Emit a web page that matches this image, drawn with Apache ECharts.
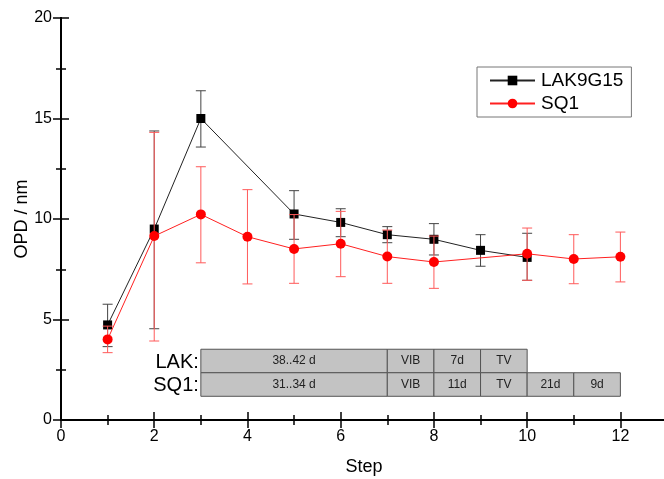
<!DOCTYPE html>
<html><head><meta charset="utf-8">
<script src="https://cdn.jsdelivr.net/npm/echarts@6/dist/echarts.min.js"></script>
<style>html,body{margin:0;padding:0;background:#fff}#c{width:664px;height:479px}</style>
</head><body><div id="c"></div>
<script>
// ---- data ----
const lakSteps = [1, 2, 3, 5, 6, 7, 8, 9, 10];
const lakOPD   = [4.73, 9.5, 15.0, 10.25, 9.83, 9.22, 8.99, 8.44, 8.09];
const lakLow   = [3.65, 4.54, 13.58, 8.99, 9.12, 8.82, 8.21, 7.65, 6.95];
const lakHigh  = [5.76, 14.38, 16.38, 11.41, 10.51, 9.62, 9.77, 9.22, 9.29];

const sqSteps = [1, 2, 3, 4, 5, 6, 7, 8, 10, 11, 12];
const sqOPD   = [4.01, 9.15, 10.23, 9.12, 8.51, 8.77, 8.13, 7.86, 8.27, 8.01, 8.12];
const sqLow   = [3.35, 3.93, 7.82, 6.77, 6.8, 7.13, 6.8, 6.55, 6.95, 6.78, 6.87];
const sqHigh  = [4.67, 14.31, 12.6, 11.46, 10.22, 10.38, 9.45, 9.15, 9.55, 9.22, 9.35];

const lakSegStart = [3, 7, 8, 9];
const lakSegEnd   = [7, 8, 9, 10];
const lakSegText  = ['38..42 d', 'VIB', '7d', 'TV'];
const sqSegStart  = [3, 7, 8, 9, 10, 11];
const sqSegEnd    = [7, 8, 9, 10, 11, 12];
const sqSegText   = ['31..34 d', 'VIB', '11d', 'TV', '21d', '9d'];

const xTicks = [0, 2, 4, 6, 8, 10, 12];
const yTicks = [0, 5, 10, 15, 20];

// ---- helpers ----
const FONT = 'Liberation Sans, Arial, sans-serif';
function errData(xs, lo, hi) { return xs.map((x, i) => [x, lo[i], hi[i]]); }
function errRender(color) {
  return function (params, api) {
    const x = api.value(0);
    const p1 = api.coord([x, api.value(1)]);
    const p2 = api.coord([x, api.value(2)]);
    const hw = 5;
    const st = { stroke: color, lineWidth: 1 };
    return { type: 'group', children: [
      { type: 'line', shape: { x1: p1[0], y1: p1[1], x2: p2[0], y2: p2[1] }, style: st },
      { type: 'line', shape: { x1: p1[0] - hw, y1: p1[1], x2: p1[0] + hw, y2: p1[1] }, style: st },
      { type: 'line', shape: { x1: p2[0] - hw, y1: p2[1], x2: p2[0] + hw, y2: p2[1] }, style: st }
    ]};
  };
}
function segData(s, e) { return s.map((v, i) => [v, e[i]]); }
function segRender(texts, yTop, yBot, rowLabel) {
  return function (params, api) {
    const a = api.coord([api.value(0), yTop]);
    const b = api.coord([api.value(1), yBot]);
    const children = [
      { type: 'rect', shape: { x: a[0], y: a[1], width: b[0] - a[0], height: b[1] - a[1] },
        style: { fill: '#c3c3c3', stroke: '#555', lineWidth: 1 } },
      { type: 'text', style: { x: (a[0] + b[0]) / 2, y: (a[1] + b[1]) / 2, text: texts[params.dataIndex],
        align: 'center', verticalAlign: 'middle', fill: '#222', font: '12px ' + FONT } }
    ];
    if (params.dataIndex === 0) {
      children.push({ type: 'text', style: { x: a[0] - 2, y: (a[1] + b[1]) / 2 + 1, text: rowLabel,
        align: 'right', verticalAlign: 'middle', fill: '#000', font: '20px ' + FONT } });
    }
    return { type: 'group', children };
  };
}

const chart = echarts.init(document.getElementById('c'), null, { renderer: 'canvas' });
const axisLine = { show: true, lineStyle: { color: '#000', width: 2 } };
const tick = { inside: true, length: 8, lineStyle: { color: '#000', width: 1.5 } };
const minor = { show: true, splitNumber: 2, length: 5, lineStyle: { color: '#000', width: 1.5 } };
const option = {
  animation: false,
  backgroundColor: '#fff',
  textStyle: { fontFamily: FONT },
  grid: { left: 61, top: 18, width: 606, height: 402, containLabel: false, outerBoundsMode: 'none' },
  legend: {
    orient: 'vertical', left: 477, top: 67,
    data: ['LAK9G15', 'SQ1'],
    borderColor: '#777', borderWidth: 1, borderRadius: 0,
    padding: [4, 8, 4, 12], itemGap: 4, itemWidth: 45, itemHeight: 12,
    textStyle: { fontSize: 19, color: '#000', fontFamily: FONT, padding: [0, 0, 0, 1] }
  },
  xAxis: [{
    type: 'value', min: 0, max: 13, interval: 2, position: 'bottom',
    name: 'Step', nameLocation: 'middle', nameGap: 38, nameMoveOverlap: false,
    nameTextStyle: { fontSize: 18, color: '#000', fontFamily: FONT },
    axisLine, axisTick: tick, minorTick: minor,
    axisLabel: { fontSize: 16, color: '#000', margin: 9, fontFamily: FONT,
      formatter: v => (xTicks.indexOf(v) >= 0 ? String(v) : '') },
    splitLine: { show: false }
  }, {
    type: 'value', min: 0, max: 13, interval: 2, position: 'top',
    axisLine, axisTick: tick, minorTick: minor,
    axisLabel: { show: false }, splitLine: { show: false }
  }],
  yAxis: [{
    type: 'value', min: 0, max: 20, interval: 5, position: 'left',
    name: 'OPD / nm', nameLocation: 'middle', nameGap: 30, nameRotate: 90, nameMoveOverlap: false,
    nameTextStyle: { fontSize: 18, color: '#000', fontFamily: FONT },
    axisLine, axisTick: tick, minorTick: minor,
    axisLabel: { fontSize: 16, color: '#000', margin: 9, fontFamily: FONT,
      formatter: v => (yTicks.indexOf(v) >= 0 ? String(v) : '') },
    splitLine: { show: false }
  }, {
    type: 'value', min: 0, max: 20, interval: 5, position: 'right',
    axisLine, axisTick: tick, minorTick: minor,
    axisLabel: { show: false }, splitLine: { show: false }
  }],
  series: [
    { type: 'custom', name: 'segLAK', silent: true, z: 1, renderItem: segRender(lakSegText, 3.52, 2.35, 'LAK:'),
      data: segData(lakSegStart, lakSegEnd), encode: { x: [0, 1] }, clip: false },
    { type: 'custom', name: 'segSQ', silent: true, z: 1, renderItem: segRender(sqSegText, 2.35, 1.18, 'SQ1:'),
      data: segData(sqSegStart, sqSegEnd), encode: { x: [0, 1] }, clip: false },
    { type: 'custom', name: 'errLAK', silent: true, z: 2, renderItem: errRender('#444'),
      data: errData(lakSteps, lakLow, lakHigh), encode: { x: 0, y: [1, 2] } },
    { type: 'line', name: 'LAK9G15', z: 3, data: lakSteps.map((x, i) => [x, lakOPD[i]]),
      symbol: 'rect', symbolSize: 9, showAllSymbol: true,
      lineStyle: { color: '#222', width: 1 }, itemStyle: { color: '#000' } },
    { type: 'custom', name: 'errSQ', silent: true, z: 4, renderItem: errRender('#ff5a5a'),
      data: errData(sqSteps, sqLow, sqHigh), encode: { x: 0, y: [1, 2] } },
    { type: 'line', name: 'SQ1', z: 5, data: sqSteps.map((x, i) => [x, sqOPD[i]]),
      symbol: 'circle', symbolSize: 10, showAllSymbol: true,
      lineStyle: { color: '#ff2020', width: 1 }, itemStyle: { color: '#ff0000' } }
  ]
};
chart.setOption(option);
</script></body></html>
